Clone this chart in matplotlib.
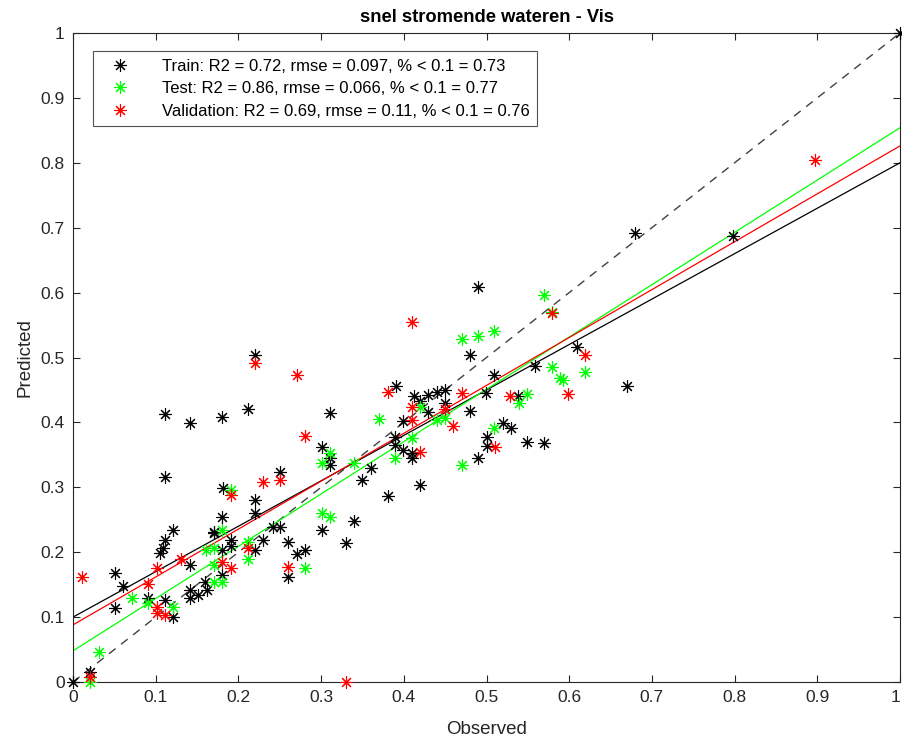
import numpy as np
import matplotlib
matplotlib.use('Agg')
from matplotlib import pyplot as plt

plt.rcParams['font.family'] = ['Liberation Sans', 'DejaVu Sans']

# train points (observed, predicted)
train_x = [0.0, 0.02, 0.051, 0.051, 0.061, 0.091, 0.111, 0.121, 0.105, 0.109, 0.111, 0.121,
           0.141, 0.141, 0.141, 0.151, 0.160, 0.162, 0.170, 0.181, 0.180, 0.180, 0.180,
           0.191, 0.191, 0.220, 0.220, 0.220, 0.230, 0.242, 0.111, 0.141, 0.180, 0.212,
           0.111, 0.220, 0.311, 0.391, 0.301, 0.311, 0.311, 0.350, 0.360, 0.381, 0.420,
           0.399, 0.389, 0.389, 0.399, 0.410, 0.410, 0.420, 0.429, 0.440, 0.450, 0.450,
           0.429, 0.250, 0.171, 0.250, 0.260, 0.281, 0.271, 0.301, 0.340, 0.330, 0.260,
           0.490, 0.480, 0.609, 0.670, 0.559, 0.509, 0.499, 0.480, 0.538, 0.520, 0.530,
           0.500, 0.500, 0.490, 0.549, 0.570, 0.412, 0.680, 0.798, 1.0]
train_y = [0.0, 0.015, 0.168, 0.114, 0.148, 0.129, 0.126, 0.100, 0.199, 0.206, 0.219, 0.234,
           0.180, 0.142, 0.129, 0.134, 0.154, 0.142, 0.229, 0.299, 0.254, 0.203, 0.165,
           0.219, 0.210, 0.280, 0.260, 0.203, 0.219, 0.239, 0.413, 0.399, 0.408, 0.421,
           0.316, 0.504, 0.414, 0.456, 0.362, 0.345, 0.334, 0.311, 0.330, 0.287, 0.304,
           0.402, 0.378, 0.365, 0.357, 0.353, 0.345, 0.433, 0.442, 0.447, 0.450, 0.430,
           0.416, 0.324, 0.231, 0.239, 0.216, 0.203, 0.197, 0.234, 0.248, 0.214, 0.162,
           0.609, 0.504, 0.516, 0.456, 0.487, 0.473, 0.446, 0.417, 0.441, 0.399, 0.392,
           0.378, 0.364, 0.345, 0.370, 0.369, 0.440, 0.692, 0.687, 1.0]

# test points
test_x = [0.02, 0.031, 0.071, 0.091, 0.121, 0.161, 0.171, 0.171, 0.171, 0.180, 0.180,
          0.191, 0.212, 0.212, 0.370, 0.311, 0.301, 0.340, 0.301, 0.311, 0.389, 0.410,
          0.420, 0.440, 0.450, 0.281, 0.570, 0.579, 0.470, 0.490, 0.509, 0.579, 0.589,
          0.592, 0.619, 0.549, 0.539, 0.509, 0.470]
test_y = [0.0, 0.046, 0.129, 0.122, 0.116, 0.203, 0.206, 0.180, 0.154, 0.234, 0.154,
          0.296, 0.216, 0.190, 0.405, 0.353, 0.337, 0.337, 0.260, 0.254, 0.345, 0.376,
          0.424, 0.404, 0.407, 0.176, 0.596, 0.570, 0.528, 0.533, 0.541, 0.485, 0.468,
          0.465, 0.478, 0.444, 0.430, 0.391, 0.334]

# validation points
val_x = [0.011, 0.02, 0.091, 0.101, 0.101, 0.101, 0.111, 0.131, 0.180, 0.191, 0.191,
         0.212, 0.230, 0.220, 0.271, 0.281, 0.381, 0.410, 0.410, 0.420, 0.450, 0.250,
         0.260, 0.410, 0.579, 0.619, 0.470, 0.459, 0.528, 0.599, 0.510, 0.897, 0.330]
val_y = [0.162, 0.008, 0.151, 0.176, 0.116, 0.106, 0.103, 0.189, 0.185, 0.176, 0.288,
         0.206, 0.308, 0.491, 0.473, 0.379, 0.447, 0.424, 0.404, 0.354, 0.421, 0.311,
         0.177, 0.555, 0.568, 0.504, 0.446, 0.394, 0.441, 0.444, 0.362, 0.804, 0.0]

# fitted lines (intercept, slope) as drawn
fit_train = [0.100, 0.700]
fit_test = [0.048, 0.806]
fit_val = [0.088, 0.738]

labels = ['Train: R2 = 0.72, rmse = 0.097, % < 0.1 = 0.73',
          'Test: R2 = 0.86, rmse = 0.066, % < 0.1 = 0.77',
          'Validation: R2 = 0.69, rmse = 0.11, % < 0.1 = 0.76']
kleuren = ['black', '#00ff00', '#ff0000']

fig = plt.figure(figsize=(9.02, 7.44), dpi=100)
ax = fig.add_axes([73/902, 62/744, 827/902, 649/744])

ster = (8, 2, 0)
sets = [(train_x, train_y), (test_x, test_y), (val_x, val_y)]
for (xs, ys), c, lab in zip(sets, kleuren, labels):
    ax.plot(xs, ys, linestyle='none', marker=ster, color=c, ms=9, mew=0.8,
            label=lab, clip_on=False, zorder=3)

xl = np.array([0, 1])
ax.plot(xl, xl, '--', color='#404040', lw=1.0, dashes=(6, 5), zorder=2)
for (b0, b1), c in zip([fit_train, fit_test, fit_val], kleuren):
    ax.plot(xl, b0 + b1 * xl, '-', color=c, lw=0.9, zorder=2)

ax.set_xlim(0, 1)
ax.set_ylim(0, 1)
ticks = np.round(np.arange(0, 1.01, 0.1), 1)
ticklab = ['0'] + ['%.1f' % t for t in ticks[1:-1]] + ['1']
ax.set_xticks(ticks)
ax.set_xticklabels(ticklab)
ax.set_yticks(ticks)
ax.set_yticklabels(ticklab)
ax.tick_params(direction='in', length=5, width=0.8, colors='#262626', labelsize=12.5,
               top=True, right=True, labeltop=False, labelright=False, pad=6)
ax.get_xticklabels()[-1].set_horizontalalignment('right')
for s in ax.spines.values():
    s.set_color('#262626')
    s.set_linewidth(0.8)

ax.set_xlabel('Observed', fontsize=13.5, color='#262626', labelpad=11)
ax.set_ylabel('Predicted', fontsize=13.5, color='#262626', labelpad=5)
ax.set_title('snel stromende wateren - Vis', fontsize=13.2, fontweight='bold', pad=8)

leg = ax.legend(loc='upper left', bbox_to_anchor=(0.024, 0.972), fontsize=12,
                frameon=True, fancybox=False, edgecolor='#262626', handlelength=2.4,
                handletextpad=1.3, borderpad=0.45, labelspacing=0.45, borderaxespad=0)
leg.get_frame().set_linewidth(0.8)

plt.savefig('out.png', dpi=100)
